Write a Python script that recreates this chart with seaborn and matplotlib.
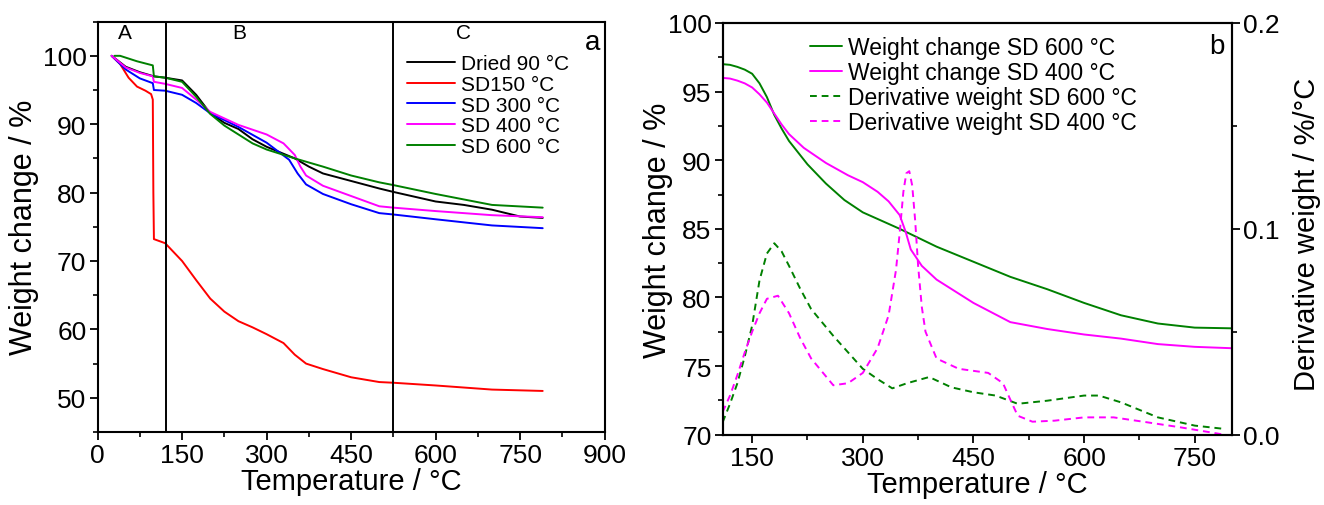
import numpy as np
import pandas as pd
import matplotlib
matplotlib.use("Agg")
import matplotlib.pyplot as plt
from matplotlib.ticker import MultipleLocator, FormatStrFormatter
import seaborn as sns

sns.set_style("ticks")
plt.rcParams["font.family"] = ["Liberation Sans", "DejaVu Sans"]
plt.rcParams["text.color"] = "black"
plt.rcParams["axes.labelcolor"] = "black"
plt.rcParams["xtick.color"] = "black"
plt.rcParams["ytick.color"] = "black"

# ---- panel a : TGA curves ----
t_dried = [25, 50, 75, 100, 120, 150, 175, 200, 225, 250, 275, 300, 350, 375, 400, 450, 500, 525, 600, 650, 700, 750, 790]
w_dried = [100, 98.4, 97.6, 97.0, 96.8, 96.4, 94.3, 91.6, 90.2, 89.3, 87.8, 86.7, 85.0, 83.8, 82.8, 81.7, 80.6, 80.1, 78.7, 78.2, 77.5, 76.5, 76.3]

t_sd150 = [25, 40, 55, 70, 85, 95, 98, 99, 100, 120, 150, 175, 200, 225, 250, 275, 300, 330, 350, 370, 400, 450, 500, 525, 600, 700, 790]
w_sd150 = [100, 98.8, 96.8, 95.5, 94.9, 94.4, 93.6, 80.0, 73.2, 72.6, 70.0, 67.2, 64.5, 62.6, 61.2, 60.3, 59.3, 58.0, 56.3, 55.0, 54.2, 53.0, 52.3, 52.2, 51.8, 51.2, 51.0]

t_sd300 = [25, 50, 75, 98, 100, 120, 150, 175, 200, 250, 300, 340, 355, 370, 400, 450, 500, 525, 600, 700, 790]
w_sd300 = [100, 98.0, 96.7, 96.0, 95.0, 94.9, 94.3, 93.1, 91.6, 89.6, 87.3, 84.8, 82.8, 81.2, 79.8, 78.3, 77.0, 76.8, 76.1, 75.2, 74.8]

t_sd400 = [25, 50, 75, 98, 100, 120, 150, 175, 200, 250, 300, 330, 350, 360, 370, 400, 450, 500, 525, 600, 700, 790]
w_sd400 = [100, 98.3, 97.5, 97.0, 96.2, 95.9, 95.3, 93.6, 91.8, 89.9, 88.5, 87.2, 85.5, 83.8, 82.5, 81.0, 79.5, 78.0, 77.8, 77.3, 76.7, 76.4]

t_sd600 = [30, 40, 70, 98, 100, 120, 150, 175, 200, 225, 250, 275, 300, 350, 400, 450, 500, 525, 600, 700, 790]
w_sd600 = [100, 100, 99.2, 98.6, 97.0, 96.8, 96.2, 94.0, 91.5, 89.8, 88.5, 87.2, 86.3, 85.0, 83.8, 82.5, 81.5, 81.1, 79.8, 78.2, 77.8]

names_a = ["Dried 90 °C", "SD150 °C", "SD 300 °C", "SD 400 °C", "SD 600 °C"]
colors_a = ["black", "#ff0000", "#0000ff", "#ff00ff", "#008000"]
region_edges = [122, 525]
region_labels = ["A", "B", "C"]
region_label_x = [48, 252, 650]

# ---- panel b : weight + derivative ----
t_b600 = [110, 120, 130, 140, 150, 160, 170, 180, 190, 200, 225, 250, 275, 300, 350, 400, 450, 500, 550, 600, 650, 700, 750, 800]
w_b600 = [97.0, 96.95, 96.8, 96.6, 96.3, 95.6, 94.6, 93.3, 92.3, 91.4, 89.7, 88.3, 87.1, 86.2, 85.0, 83.7, 82.6, 81.5, 80.6, 79.6, 78.7, 78.1, 77.8, 77.75]
t_b400 = [110, 120, 130, 140, 150, 160, 170, 180, 190, 200, 220, 250, 280, 300, 320, 335, 350, 358, 365, 380, 400, 450, 500, 550, 600, 650, 700, 750, 800]
w_b400 = [96.0, 95.95, 95.8, 95.6, 95.3, 94.8, 94.2, 93.4, 92.6, 91.9, 90.9, 89.8, 88.9, 88.4, 87.7, 87.0, 86.0, 84.8, 83.5, 82.3, 81.3, 79.6, 78.2, 77.7, 77.3, 77.0, 76.6, 76.4, 76.3]

td_600 = [110, 120, 130, 140, 150, 160, 170, 180, 190, 200, 215, 230, 260, 300, 320, 340, 360, 390, 420, 450, 480, 510, 550, 600, 620, 650, 700, 750, 790]
d_600 = [0.006, 0.015, 0.025, 0.038, 0.053, 0.075, 0.088, 0.093, 0.089, 0.082, 0.071, 0.061, 0.048, 0.032, 0.027, 0.0225, 0.025, 0.028, 0.023, 0.0206, 0.019, 0.015, 0.0165, 0.019, 0.019, 0.0157, 0.0084, 0.0044, 0.0028]
td_400 = [110, 120, 130, 140, 150, 160, 170, 185, 200, 215, 230, 260, 280, 300, 320, 335, 345, 350, 355, 359, 363, 367, 371, 375, 380, 385, 400, 430, 470, 490, 500, 510, 530, 560, 600, 640, 680, 730, 790]
d_400 = [0.011, 0.019, 0.029, 0.04, 0.05, 0.059, 0.066, 0.0675, 0.059, 0.047, 0.037, 0.024, 0.025, 0.030, 0.042, 0.058, 0.080, 0.098, 0.118, 0.127, 0.128, 0.121, 0.104, 0.082, 0.062, 0.050, 0.037, 0.032, 0.030, 0.025, 0.017, 0.0092, 0.0063, 0.0068, 0.0084, 0.0084, 0.0063, 0.0036, 0.0]

fig = plt.figure(figsize=(13.24, 5.06), dpi=100)
ax1 = fig.add_axes([0.0737, 0.1443, 0.383, 0.811])
ax2 = fig.add_axes([0.5458, 0.139, 0.385, 0.8136])
ax3 = ax2.twinx()

lw = 1.4
dash = (0, (3.5, 2.5))
series_a = [(t_dried, w_dried), (t_sd150, w_sd150), (t_sd300, w_sd300), (t_sd400, w_sd400), (t_sd600, w_sd600)]
for (t, w), name, c in zip(series_a, names_a, colors_a):
    df = pd.DataFrame({"T": t, "W": w})
    sns.lineplot(data=df, x="T", y="W", ax=ax1, color=c, lw=lw, label=name, sort=False, estimator=None)
for xv in region_edges:
    ax1.axvline(xv, color="black", lw=1.4)
for lab, xv in zip(region_labels, region_label_x):
    ax1.text(xv, 103.4, lab, ha="center", va="center", fontsize=15)
ax1.text(879, 102.0, "a", ha="center", va="center", fontsize=20)
ax1.set_xlim(0, 900)
ax1.set_ylim(45, 105)
ax1.xaxis.set_major_locator(MultipleLocator(150))
ax1.xaxis.set_minor_locator(MultipleLocator(75))
ax1.set_yticks([50, 60, 70, 80, 90, 100])
ax1.yaxis.set_minor_locator(MultipleLocator(5))
ax1.set_xlabel("Temperature / °C", fontsize=21, labelpad=0)
ax1.set_ylabel("Weight change / %", fontsize=22)
ax1.yaxis.set_label_coords(-0.115, 0.5)
ax1.legend(loc="upper left", bbox_to_anchor=(0.61, 0.92), frameon=False, fontsize=15,
           handlelength=2.3, handletextpad=0.29, labelspacing=0.08, borderaxespad=0, borderpad=0)

# panel b
sns.lineplot(x=t_b600, y=w_b600, ax=ax2, color="#008000", lw=lw, label="Weight change SD 600 °C")
sns.lineplot(x=t_b400, y=w_b400, ax=ax2, color="#ff00ff", lw=lw, label="Weight change SD 400 °C")
sns.lineplot(x=td_600, y=d_600, ax=ax3, color="#008000", lw=lw, ls=dash, label="Derivative weight SD 600 °C")
sns.lineplot(x=td_400, y=d_400, ax=ax3, color="#ff00ff", lw=lw, ls=dash, label="Derivative weight SD 400 °C")
ax2.set_xlim(110, 801)
ax2.set_ylim(70, 100)
ax3.set_ylim(0, 0.2)
ax2.xaxis.set_major_locator(MultipleLocator(150))
ax2.xaxis.set_minor_locator(MultipleLocator(75))
ax2.yaxis.set_major_locator(MultipleLocator(5))
ax2.yaxis.set_minor_locator(MultipleLocator(2.5))
ax3.yaxis.set_major_locator(MultipleLocator(0.1))
ax3.yaxis.set_minor_locator(MultipleLocator(0.05))
ax3.yaxis.set_major_formatter(FormatStrFormatter("%.1f"))
ax2.set_xlabel("Temperature / °C", fontsize=21, labelpad=0)
ax2.set_ylabel("Weight change / %", fontsize=22)
ax2.yaxis.set_label_coords(-0.0975, 0.5)
ax3.set_ylabel("Derivative weight / %/°C", fontsize=21)
ax3.yaxis.set_label_coords(1.118, 0.49)
ax2.text(0.969, 0.944, "b", transform=ax2.transAxes, ha="center", va="center", fontsize=20)
h2, l2 = ax2.get_legend_handles_labels()
h3, l3 = ax3.get_legend_handles_labels()
if ax3.get_legend():
    ax3.get_legend().remove()
ax2.legend(h2 + h3, l2 + l3, loc="upper left", bbox_to_anchor=(0.171, 0.968), frameon=False, fontsize=16.5,
           handlelength=1.4, handletextpad=0.27, labelspacing=0.09, borderaxespad=0, borderpad=0)

for ax in (ax1, ax2, ax3):
    for s in ax.spines.values():
        s.set_visible(True)
        s.set_linewidth(1.5)
        s.set_color("black")
    ax.tick_params(which="major", length=6, width=1.3, labelsize=19, pad=2, color="black", labelcolor="black")
    ax.tick_params(which="minor", length=3.5, width=1.2, color="black")
ax1.tick_params(top=False, right=False, which="both")
ax2.tick_params(top=False, right=False, which="both")
ax3.tick_params(axis="y", which="both", left=False, right=True)

fig.savefig("out.png", dpi=100)
